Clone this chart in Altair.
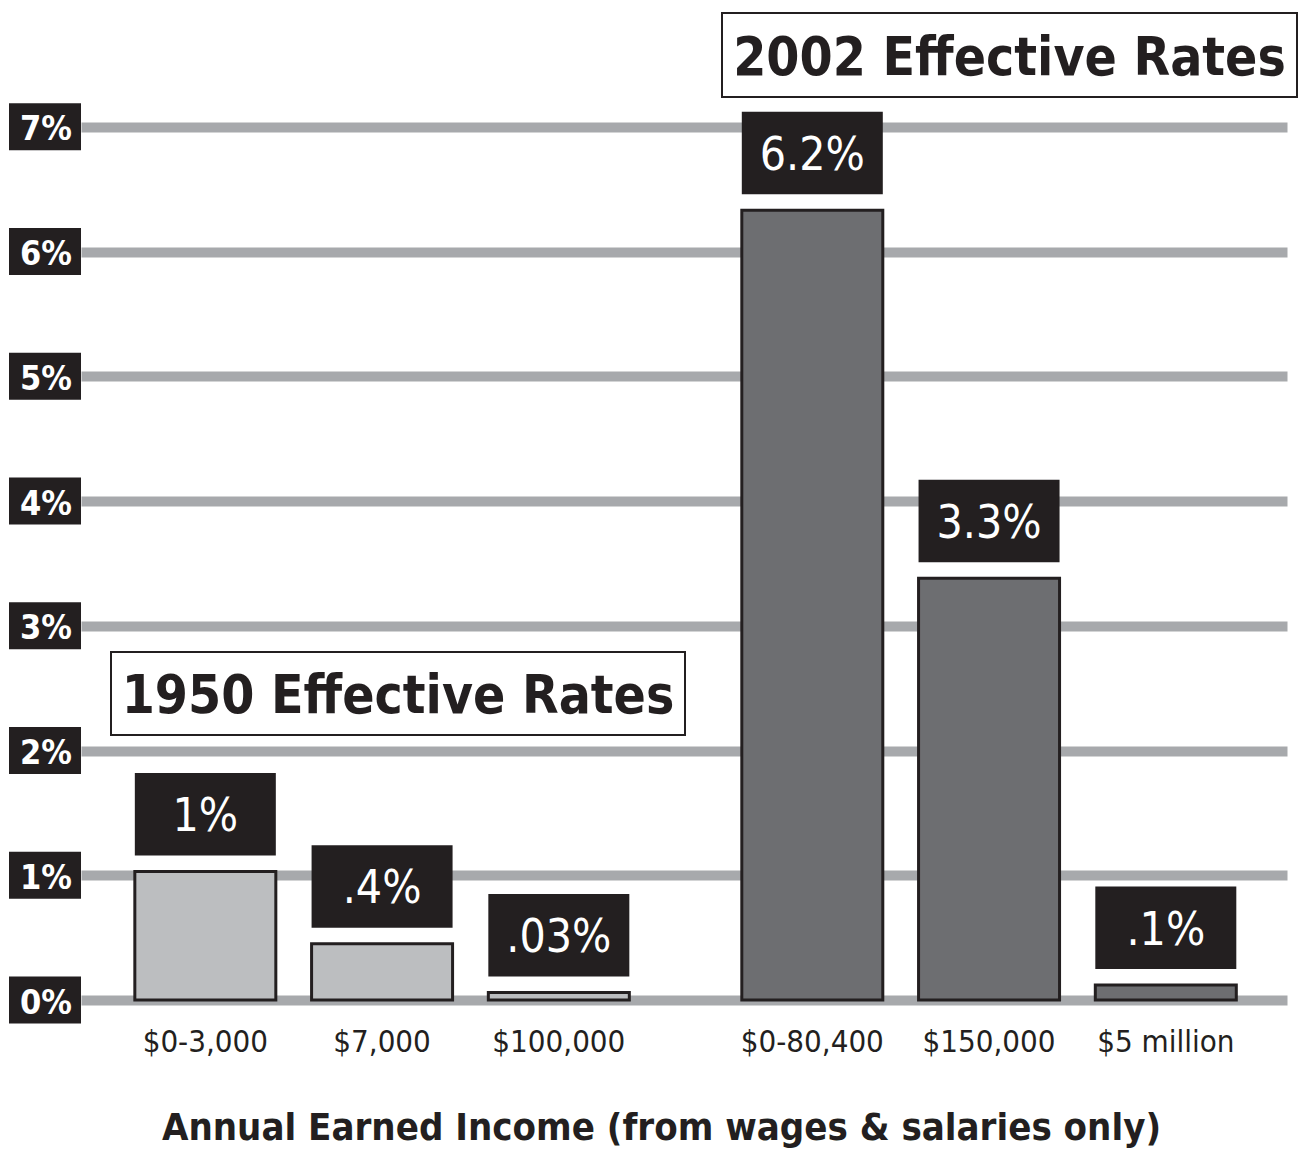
import altair as alt
import pandas as pd

# ---- data ----
categories = ["$0-3,000", "$7,000", "$100,000", "$0-80,400", "$150,000", "$5 million"]
groups = ["1950", "1950", "1950", "2002", "2002", "2002"]
values = [1.03, 0.45, 0.06, 6.33, 3.38, 0.12]          # bar heights (%)
value_labels = ["1%", ".4%", ".03%", "6.2%", "3.3%", ".1%"]
tick_values = [0, 1, 2, 3, 4, 5, 6, 7]
tick_labels = ["0%", "1%", "2%", "3%", "4%", "5%", "6%", "7%"]
group_titles = ["1950 Effective Rates", "2002 Effective Rates"]
x_title = "Annual Earned Income (from wages & salaries only)"

df = pd.DataFrame({"group": groups, "category": categories,
                   "value": values, "label": value_labels})
ticks_df = pd.DataFrame({"tick": tick_values, "tlabel": tick_labels})

NARROW = "DejaVu Sans Condensed, Liberation Sans Narrow, Roboto, sans-serif"
BLACK = "#231f20"
GRID = "#a7a9ac"
LIGHT = "#bcbec0"
DARK = "#6d6e71"

xscale = alt.Scale(domain=["1950", "2002"], paddingInner=0.1853, paddingOuter=0.0861, align=0.515)
oscale = alt.Scale(domain=[1, 2, 3], paddingInner=0.2023, paddingOuter=0)
yscale = alt.Scale(domain=[0, 8], nice=False, zero=True)

base = alt.Chart(df).transform_window(slot="row_number()", groupby=["group"])

X = alt.X("group:N", scale=xscale,
          axis=alt.Axis(labels=False, ticks=False, domain=False, title=x_title,
                        titleFont=NARROW, titleFontSize=38, titleFontWeight="bold",
                        titleColor=BLACK, titleX=580, titleY=139,
                        titleBaseline="alphabetic", titleAlign="center"))
XO = alt.XOffset("slot:O", scale=oscale)

bars = base.mark_bar(stroke=BLACK, strokeWidth=3).encode(
    x=X, xOffset=XO,
    y=alt.Y("value:Q", scale=yscale,
            axis=alt.Axis(values=tick_values, grid=True, gridColor=GRID, gridWidth=10,
                          labels=False, ticks=False, domain=False, title=None)),
    color=alt.Color("group:N", scale=alt.Scale(domain=["1950", "2002"], range=[LIGHT, DARK]),
                    legend=None),
)

boxes = base.mark_bar(color=BLACK, yOffset=-98.5, y2Offset=-16).encode(
    x=alt.X("group:N", scale=xscale), xOffset=XO,
    y=alt.Y("value:Q", scale=yscale), y2="value:Q",
)

box_text = base.mark_text(color="white", font=NARROW, fontSize=46, baseline="alphabetic",
                          align="center", dy=-40.5).encode(
    x=alt.X("group:N", scale=xscale), xOffset=XO,
    y=alt.Y("value:Q", scale=yscale), text="label:N",
)

cat_text = base.mark_text(color=BLACK, font=NARROW, fontSize=31, baseline="alphabetic",
                          align="center", dy=52).encode(
    x=alt.X("group:N", scale=xscale), xOffset=XO,
    y=alt.datum(0, scale=yscale), text="category:N",
)

tick_base = alt.Chart(ticks_df)
tick_boxes = tick_base.mark_rule(color=BLACK, strokeWidth=47, strokeCap="butt").encode(
    x=alt.value(-72), x2=alt.value(0), y=alt.Y("tick:Q", scale=yscale),
)
tick_text = tick_base.mark_text(color="white", font=NARROW, fontWeight="bold", fontSize=34,
                                align="right", baseline="alphabetic", dy=13.5).encode(
    x=alt.value(-9), y=alt.Y("tick:Q", scale=yscale), text="tlabel:N",
)

t1 = alt.Chart(pd.DataFrame({"t": [group_titles[0]]}))
t2 = alt.Chart(pd.DataFrame({"t": [group_titles[1]]}))
title1_box = t1.mark_rect(fill="white", stroke=BLACK, strokeWidth=2).encode(
    x=alt.value(30), x2=alt.value(604), y=alt.value(650), y2=alt.value(733))
title1_text = t1.mark_text(color=BLACK, font=NARROW, fontWeight="bold", fontSize=53,
                           align="center", baseline="alphabetic").encode(
    x=alt.value(317), y=alt.value(711), text="t:N")
title2_box = t2.mark_rect(fill="white", stroke=BLACK, strokeWidth=2).encode(
    x=alt.value(641), x2=alt.value(1216), y=alt.value(11), y2=alt.value(95))
title2_text = t2.mark_text(color=BLACK, font=NARROW, fontWeight="bold", fontSize=53,
                           align="center", baseline="alphabetic").encode(
    x=alt.value(928.5), y=alt.value(72.5), text="t:N")

chart = alt.layer(
    bars, boxes, box_text, cat_text, tick_boxes, tick_text,
    title1_box, title1_text, title2_box, title2_text,
).properties(
    width=1206, height=998,
    padding={"left": 81, "top": 2, "right": 12, "bottom": 151},
    autosize=alt.AutoSizeParams(type="none"),
    background="white",
).configure_view(stroke=None)

chart.save("out.html", embed_options={"renderer": "svg", "actions": False})
